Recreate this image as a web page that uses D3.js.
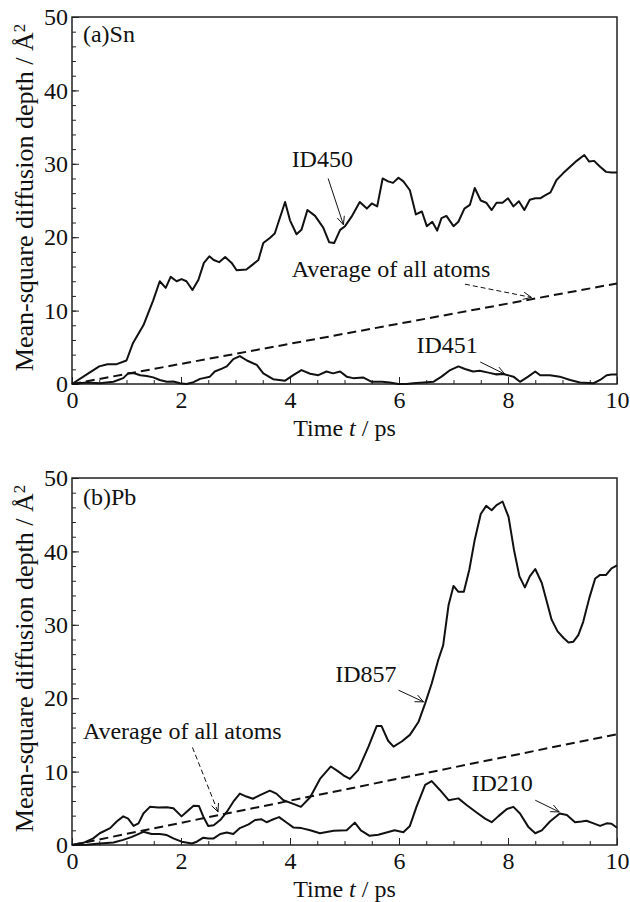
<!DOCTYPE html>
<html>
<head>
<meta charset="utf-8">
<script src="https://cdn.jsdelivr.net/npm/d3@7"></script>
<style>
  body { margin: 0; background: #fff; }
  text { font-family: "Liberation Serif", "Times New Roman", serif; fill: #111; }
</style>
</head>
<body>
<script>
// (a) Sn, [time ps, depth A^2]
var id450 = [[0,0],[0.25,1.2],[0.5,2.4],[0.65,2.7],[0.82,2.7],[1.0,3.2],[1.12,5.6],[1.31,8.0],[1.49,11.4],[1.61,14.0],[1.72,13.1],[1.81,14.6],[1.92,14.0],[2.01,14.3],[2.10,14.0],[2.21,12.8],[2.32,14.2],[2.42,16.5],[2.52,17.4],[2.60,16.9],[2.70,16.6],[2.81,17.3],[2.93,16.5],[3.02,15.5],[3.20,15.6],[3.32,16.3],[3.42,16.9],[3.51,19.2],[3.63,19.9],[3.72,20.5],[3.91,24.8],[4.0,22.3],[4.12,20.4],[4.21,21.0],[4.32,23.7],[4.46,22.9],[4.61,21.3],[4.72,19.3],[4.81,19.2],[4.92,21.0],[5.01,21.5],[5.13,22.8],[5.28,24.8],[5.41,23.9],[5.50,24.6],[5.60,24.2],[5.70,28.0],[5.80,27.6],[5.89,27.4],[5.99,28.1],[6.08,27.6],[6.20,26.4],[6.31,23.1],[6.42,23.5],[6.51,21.5],[6.61,22.1],[6.70,20.9],[6.78,22.6],[6.87,22.9],[7.0,21.5],[7.09,22.1],[7.20,23.9],[7.30,24.4],[7.39,26.7],[7.50,25.0],[7.60,24.7],[7.70,23.7],[7.79,24.7],[7.90,24.7],[8.0,25.3],[8.10,24.2],[8.20,24.9],[8.30,23.7],[8.40,25.1],[8.50,25.3],[8.59,25.3],[8.68,25.7],[8.78,26.1],[8.89,27.8],[9.01,28.7],[9.14,29.6],[9.26,30.4],[9.40,31.2],[9.49,30.3],[9.58,30.4],[9.69,29.6],[9.80,28.9],[9.90,28.8],[10,28.8]]
var id451 = [[0,0],[0.27,0.2],[0.51,0.1],[0.76,0.3],[0.94,0.8],[1.03,1.45],[1.13,1.5],[1.25,1.2],[1.37,1.1],[1.49,0.9],[1.61,0.55],[1.74,0.3],[1.86,0.35],[1.98,0.1],[2.10,0.0],[2.23,0.25],[2.35,0.7],[2.53,1.0],[2.62,1.7],[2.75,2.1],[2.84,2.4],[2.96,3.4],[3.08,3.8],[3.21,3.2],[3.39,2.6],[3.51,1.45],[3.69,0.65],[3.91,0.45],[4.06,1.2],[4.21,1.9],[4.37,1.4],[4.52,1.2],[4.67,1.7],[4.79,1.45],[4.92,1.7],[5.04,1.0],[5.16,0.8],[5.34,0.9],[5.50,0.3],[5.69,0.3],[5.83,0.2],[5.99,0.0],[6.14,0.0],[6.26,0.1],[6.45,0.2],[6.63,0.3],[6.78,1.0],[6.94,1.9],[7.09,2.4],[7.21,2.05],[7.36,1.7],[7.48,1.8],[7.64,1.55],[7.79,1.3],[7.91,1.35],[8.10,1.0],[8.22,0.3],[8.37,1.0],[8.50,1.7],[8.59,1.2],[8.77,1.2],[8.95,1.0],[9.14,0.55],[9.32,0.2],[9.57,0.1],[9.69,0.55],[9.81,1.2],[9.90,1.3],[10,1.3]]
var avgSn = [[0,0],[10,13.7]]

// (b) Pb
var id857 = [[0,0],[0.21,0.3],[0.39,0.9],[0.51,1.6],[0.70,2.3],[0.82,3.2],[0.94,3.9],[1.03,3.6],[1.13,2.6],[1.22,2.95],[1.31,4.3],[1.43,5.2],[1.58,5.1],[1.74,5.15],[1.86,5.0],[2.01,3.9],[2.10,4.5],[2.23,5.35],[2.33,5.3],[2.41,3.85],[2.50,2.6],[2.60,2.7],[2.72,3.4],[2.84,4.5],[2.96,5.9],[3.08,7.0],[3.20,6.6],[3.32,6.3],[3.45,6.8],[3.63,7.4],[3.75,7.0],[3.88,6.1],[4.06,5.6],[4.20,5.2],[4.37,6.5],[4.55,9.0],[4.75,10.7],[4.89,10.0],[4.98,9.5],[5.10,9.0],[5.25,10.2],[5.44,13.4],[5.59,16.2],[5.68,16.2],[5.80,14.2],[5.90,13.4],[6.05,14.1],[6.20,15.0],[6.36,16.8],[6.48,19.3],[6.60,22.0],[6.72,25.2],[6.81,27.2],[6.91,32.7],[7.0,35.3],[7.09,34.5],[7.19,34.5],[7.29,37.5],[7.39,41.6],[7.50,45.1],[7.60,46.2],[7.70,45.6],[7.79,46.3],[7.90,46.8],[8.01,44.7],[8.11,40.2],[8.21,36.6],[8.31,35.1],[8.40,36.6],[8.50,37.6],[8.62,35.7],[8.71,33.2],[8.80,30.7],[8.91,29.1],[9.02,28.2],[9.11,27.6],[9.20,27.7],[9.29,28.6],[9.38,30.4],[9.49,33.6],[9.60,36.3],[9.69,36.8],[9.80,36.8],[9.90,37.7],[10,38.1]]
var id210 = [[0,0],[0.27,0.05],[0.51,0.2],[0.76,0.35],[0.94,0.7],[1.10,1.1],[1.31,1.8],[1.46,1.5],[1.61,1.5],[1.74,1.35],[1.86,0.9],[2.01,0.45],[2.20,0.2],[2.29,0.45],[2.41,1.0],[2.50,0.9],[2.60,0.9],[2.72,1.5],[2.84,1.7],[2.96,1.5],[3.08,2.3],[3.24,2.8],[3.36,3.4],[3.48,3.5],[3.57,3.1],[3.66,3.4],[3.80,3.8],[3.93,3.1],[4.06,2.4],[4.21,2.3],[4.37,2.0],[4.55,1.6],[4.80,1.95],[5.04,2.0],[5.19,3.05],[5.30,2.0],[5.46,1.25],[5.62,1.4],[5.77,1.7],[5.92,2.0],[6.08,1.75],[6.20,2.6],[6.32,5.2],[6.48,8.2],[6.60,8.7],[6.75,7.5],[6.91,6.1],[7.09,6.35],[7.24,5.45],[7.43,4.4],[7.58,3.6],[7.70,3.1],[7.82,3.9],[7.98,4.9],[8.10,5.2],[8.22,4.3],[8.37,2.5],[8.50,1.6],[8.62,2.0],[8.77,3.2],[8.95,4.3],[9.08,4.1],[9.23,3.1],[9.35,3.2],[9.44,3.3],[9.57,2.95],[9.69,2.6],[9.81,2.95],[9.90,2.9],[10,2.35]]
var avgPb = [[0,0],[10,15.1]]

var xTicks = [0, 2, 4, 6, 8, 10]
var yTicks = [0, 10, 20, 30, 40, 50]

var width = 630, height = 902
var left = 72, plotW = 545, plotH = 367

var svg = d3.select("body").append("svg")
  .attr("width", width)
  .attr("height", height)

var x = d3.scaleLinear().domain([0, 10]).range([0, plotW])
var y = d3.scaleLinear().domain([0, 50]).range([plotH, 0])

var line = d3.line()
  .x(function(d) { return x(d[0]) })
  .y(function(d) { return y(d[1]) })

function arrow(g, a, dashed) {
  var x1 = x(a[0]), y1 = y(a[1]), x2 = x(a[2]), y2 = y(a[3])
  var ang = Math.atan2(y2 - y1, x2 - x1), L = 9, h = 0.42
  g.append("line")
    .attr("x1", x1).attr("y1", y1).attr("x2", x2).attr("y2", y2)
    .attr("stroke", "#111").attr("stroke-width", 1)
    .attr("stroke-dasharray", dashed ? "5,3" : null)
  g.append("path")
    .attr("d", "M" + (x2 - L * Math.cos(ang - h)) + "," + (y2 - L * Math.sin(ang - h)) +
      "L" + x2 + "," + y2 +
      "L" + (x2 - L * Math.cos(ang + h)) + "," + (y2 - L * Math.sin(ang + h)))
    .attr("fill", "none").attr("stroke", "#111").attr("stroke-width", 1)
}

function drawPanel(top, tag, solid, avg, notes) {
  var g = svg.append("g").attr("transform", "translate(" + left + " " + top + ")")

  // minor ticks
  g.append("g").attr("transform", "translate(0," + plotH + ")")
    .call(d3.axisBottom(x).tickValues(d3.range(0, 10.01, 0.5)).tickSize(-4).tickFormat(""))
  g.append("g")
    .call(d3.axisLeft(y).tickValues(d3.range(0, 50.01, 2)).tickSize(-4).tickFormat(""))

  var xa = g.append("g").attr("transform", "translate(0," + plotH + ")")
    .call(d3.axisBottom(x).tickValues(xTicks).tickSize(-7).tickPadding(7).tickFormat(d3.format("d")))
  var ya = g.append("g")
    .call(d3.axisLeft(y).tickValues(yTicks).tickSize(-7).tickPadding(4).tickFormat(d3.format("d")))

  g.selectAll(".domain").remove()
  g.selectAll(".tick line").attr("stroke", "#222").attr("stroke-width", 1)
  g.selectAll(".tick text").style("font-size", "24px").attr("fill", "#111")
    .style("font-family", '"Liberation Serif", serif')

  g.append("rect")
    .attr("width", plotW).attr("height", plotH)
    .attr("fill", "none").attr("stroke", "#222").attr("stroke-width", 1.5)

  solid.forEach(function(s) {
    g.append("path").datum(s).attr("d", line)
      .attr("fill", "none").attr("stroke", "#111").attr("stroke-width", 2)
      .attr("stroke-linejoin", "round")
  })
  g.append("path").datum(avg).attr("d", line)
    .attr("fill", "none").attr("stroke", "#111").attr("stroke-width", 2)
    .attr("stroke-dasharray", "9,5")

  g.append("text").attr("x", x(0.2)).attr("y", y(tag[1]))
    .style("font-size", "24px").text(tag[0])

  notes.forEach(function(n) {
    g.append("text").attr("x", x(n.at[0])).attr("y", y(n.at[1]))
      .style("font-size", "24px").text(n.label)
    arrow(g, n.arrow, n.dashed)
  })

  // axis titles
  var xt = g.append("text").attr("x", plotW / 2).attr("y", plotH + 52)
    .attr("text-anchor", "middle").style("font-size", "24px")
  xt.append("tspan").text("Time ")
  xt.append("tspan").style("font-style", "italic").text("t")
  xt.append("tspan").text(" / ps")

  var yt = g.append("text")
    .attr("transform", "translate(" + (33 - left) + "," + (plotH / 2 - 3) + ") rotate(-90)")
    .attr("text-anchor", "middle").style("font-size", "26px")
  yt.append("tspan").text("Mean-square diffusion depth / Å")
  yt.append("tspan").attr("dy", "-0.45em").style("font-size", "17px").text("2")
}

drawPanel(17, ["(a)Sn", 46.6], [id450, id451], avgSn, [
  { label: "ID450", at: [4.03, 29.6], arrow: [4.70, 28.0, 4.98, 21.7] },
  { label: "Average of all atoms", at: [4.03, 14.6], arrow: [7.21, 13.6, 8.43, 11.8], dashed: true },
  { label: "ID451", at: [6.32, 4.2], arrow: [7.49, 3.0, 7.94, 1.35] }
])

drawPanel(478, ["(b)Pb", 46.3], [id857, id210], avgPb, [
  { label: "Average of all atoms", at: [0.2, 14.5], arrow: [2.21, 13.3, 2.68, 4.5], dashed: true },
  { label: "ID857", at: [4.83, 22.2], arrow: [5.99, 21.1, 6.45, 19.5] },
  { label: "ID210", at: [7.33, 7.3], arrow: [8.50, 6.1, 8.94, 4.5] }
])
</script>
</body>
</html>
